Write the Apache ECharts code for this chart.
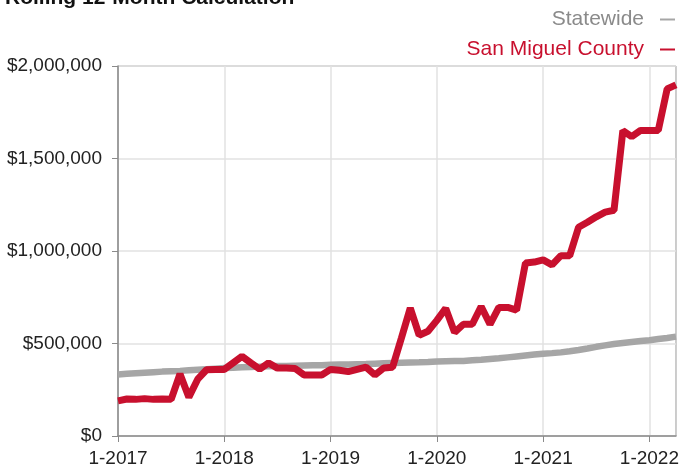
<!DOCTYPE html>
<html>
<head>
<meta charset="utf-8">
<script src="https://cdn.jsdelivr.net/npm/echarts@6/dist/echarts.min.js"></script>
<style>
html,body{margin:0;padding:0;background:#fff;}
#chart{width:682px;height:468px;}
</style>
</head>
<body>
<div id="chart"></div>
<script>
var months = [
 '1-2017','2-2017','3-2017','4-2017','5-2017','6-2017','7-2017','8-2017','9-2017','10-2017','11-2017','12-2017',
 '1-2018','2-2018','3-2018','4-2018','5-2018','6-2018','7-2018','8-2018','9-2018','10-2018','11-2018','12-2018',
 '1-2019','2-2019','3-2019','4-2019','5-2019','6-2019','7-2019','8-2019','9-2019','10-2019','11-2019','12-2019',
 '1-2020','2-2020','3-2020','4-2020','5-2020','6-2020','7-2020','8-2020','9-2020','10-2020','11-2020','12-2020',
 '1-2021','2-2021','3-2021','4-2021','5-2021','6-2021','7-2021','8-2021','9-2021','10-2021','11-2021','12-2021',
 '1-2022','2-2022','3-2022','4-2022'
];
var statewide = [
 333000,336000,339000,342000,345000,348000,350000,352000,355000,358000,361000,364000,
 367000,369000,371000,373000,375000,377000,378000,379000,380000,381000,382000,383000,
 385000,386000,387000,388000,389000,391000,393000,395000,396000,397000,398000,400000,
 403000,404000,405000,406000,409000,412000,416000,420000,425000,430000,435000,440000,
 445000,448000,452000,458000,465000,473000,482000,490000,497000,503000,508000,513000,
 518000,524000,530000,537000
];
var sanMiguel = [
 190000,200000,198000,202000,198000,200000,198000,335000,210000,307000,358000,360000,
 360000,395000,430000,395000,362000,395000,367000,367000,365000,330000,330000,330000,
 360000,355000,348000,360000,372000,330000,367000,372000,530000,692000,545000,566000,
 625000,690000,560000,604000,604000,700000,604000,695000,695000,680000,935000,940000,
 952000,925000,975000,975000,1128000,1155000,1185000,1210000,1220000,1650000,1618000,1652000,
 1652000,1652000,1876000,1898000
];
var yTicks = [0, 500000, 1000000, 1500000, 2000000];
var seriesNames = ['Statewide', 'San Miguel County'];
var titleText = 'Rolling 12-Month Calculation';

var FONT = '"Liberation Sans", Arial, Helvetica, sans-serif';
var chart = echarts.init(document.getElementById('chart'));
function money(v){ return '$' + v.toString().replace(/\B(?=(\d{3})+(?!\d))/g, ','); }
function yearTick(i){ return i % 12 === 0; }

chart.setOption({
  animation: false,
  textStyle: { fontFamily: FONT },
  title: {
    text: titleText, left: 0, top: -17,
    textStyle: { fontFamily: FONT, fontSize: 21, fontWeight: 'bold', color: '#111' }
  },
  legend: {
    orient: 'vertical', right: 2, top: 4, align: 'right',
    icon: 'rect', itemWidth: 15, itemHeight: 2, itemGap: 9,
    selectedMode: false,
    textStyle: { fontFamily: FONT, fontSize: 21, padding: [0, 11, 0, 0] },
    data: [
      { name: seriesNames[0], textStyle: { color: '#8a8a8a' } },
      { name: seriesNames[1], textStyle: { color: '#c8102e' } }
    ]
  },
  grid: {
    left: 118, right: 2, top: 66, bottom: 31,
    show: true, borderColor: '#9a9a9a', borderWidth: 1
  },
  xAxis: {
    type: 'category', data: months, boundaryGap: false,
    axisLine: { lineStyle: { color: '#8a8a8a', width: 1.5 } },
    axisTick: { interval: function(i){ return yearTick(i); }, length: 6, lineStyle: { color: '#8a8a8a' } },
    axisLabel: { interval: function(i){ return yearTick(i); }, margin: 13, fontSize: 19, color: '#222', fontFamily: FONT },
    splitLine: { show: true, interval: function(i){ return yearTick(i); }, lineStyle: { color: '#e2e2e2', width: 1.5 } }
  },
  yAxis: {
    type: 'value', min: yTicks[0], max: yTicks[yTicks.length - 1], interval: yTicks[1] - yTicks[0],
    axisLine: { show: true, lineStyle: { color: '#8a8a8a', width: 1.5 } },
    axisTick: { show: true, length: 6, lineStyle: { color: '#8a8a8a' } },
    axisLabel: { formatter: money, margin: 16, fontSize: 19, color: '#222', fontFamily: FONT },
    splitLine: { show: true, lineStyle: { color: '#e2e2e2', width: 1.5 } }
  },
  series: [
    { name: seriesNames[0], type: 'line', data: statewide, showSymbol: false, symbol: 'none',
      color: '#a6a6a6', lineStyle: { width: 6.5, color: '#a6a6a6' }, z: 2 },
    { name: seriesNames[1], type: 'line', data: sanMiguel, showSymbol: false, symbol: 'none',
      color: '#c8102e', lineStyle: { width: 7, color: '#c8102e' }, z: 3 }
  ]
});
</script>
</body>
</html>
